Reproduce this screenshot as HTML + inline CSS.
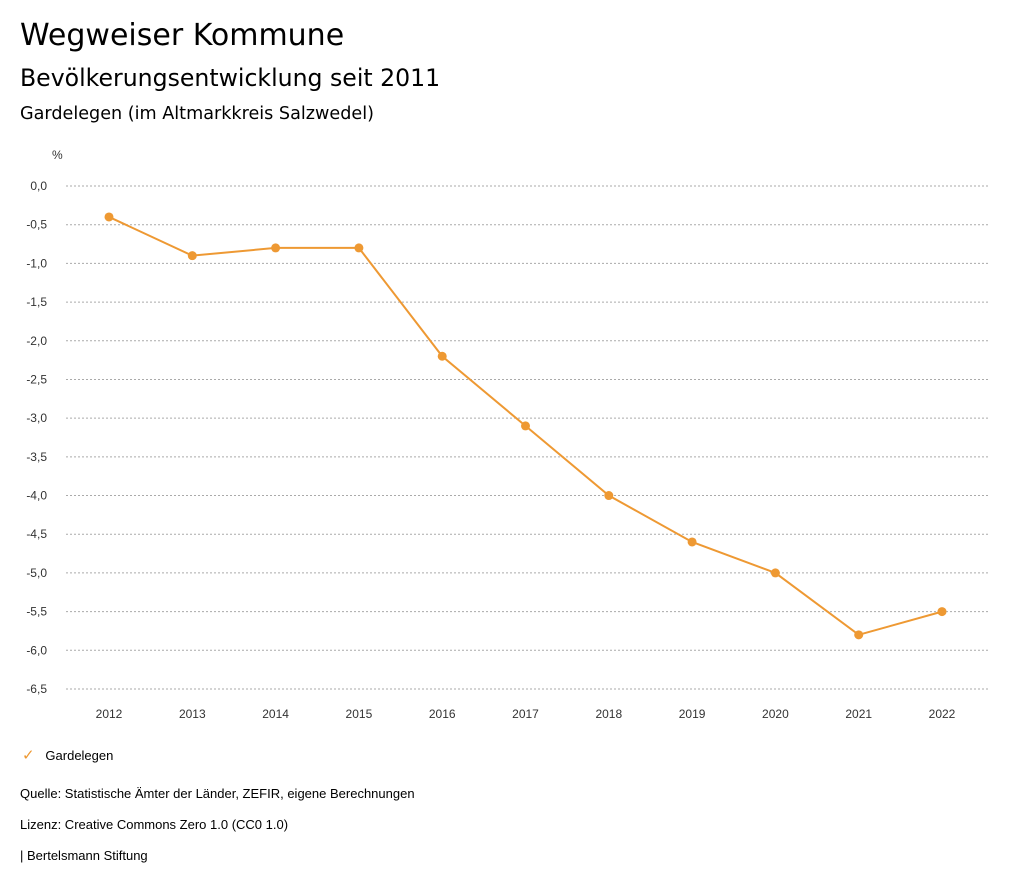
<!DOCTYPE html>
<html><head><meta charset="utf-8">
<style>
body{margin:0;width:1024px;height:888px;background:#fff;font-family:"Liberation Sans",sans-serif;color:#000;overflow:hidden}
.t{position:absolute;left:20px;white-space:nowrap}
.h{font-family:"DejaVu Sans",sans-serif}
</style></head><body>
<div class="t h" style="top:18px;font-size:30px">Wegweiser Kommune</div>
<div class="t h" style="top:64px;font-size:23.6px">Bevölkerungsentwicklung seit 2011</div>
<div class="t h" style="top:104px;font-size:17.6px">Gardelegen (im Altmarkkreis Salzwedel)</div>
<svg id="c" width="1024" height="888" style="position:absolute;left:0;top:0" font-family="Liberation Sans, sans-serif"></svg>
<div class="t" style="top:746px;left:22px;font-size:13px"><span style="color:#ee9933;font-size:15px">✓</span>&nbsp;&nbsp;&nbsp;Gardelegen</div>
<div class="t" style="top:786px;font-size:13px">Quelle: Statistische Ämter der Länder, ZEFIR, eigene Berechnungen</div>
<div class="t" style="top:817px;font-size:13px">Lizenz: Creative Commons Zero 1.0 (CC0 1.0)</div>
<div class="t" style="top:848px;font-size:13px">| Bertelsmann Stiftung</div>
<script>
const years=["2012","2013","2014","2015","2016","2017","2018","2019","2020","2021","2022"];
const values=[-0.4,-0.9,-0.8,-0.8,-2.2,-3.1,-4.0,-4.6,-5.0,-5.8,-5.5];
const yTicks=[0,-0.5,-1,-1.5,-2,-2.5,-3,-3.5,-4,-4.5,-5,-5.5,-6,-6.5];
const svg=document.getElementById('c');const NS='http://www.w3.org/2000/svg';
function y(v){return 186+(v/-6.5)*(689-186);}
function x(i){return 109+i*(942-109)/(years.length-1);}
function mk(t,a,txt){const e=document.createElementNS(NS,t);for(const k in a)e.setAttribute(k,a[k]);if(txt!==undefined)e.textContent=txt;svg.appendChild(e);return e;}
let u=mk('text',{x:52,y:159,'font-size':12,fill:'#333'},'%');


yTicks.forEach(v=>{
 const g=mk('line',{x1:66,x2:990,y1:y(v),y2:y(v),stroke:'#aaa','stroke-dasharray':'2,2','stroke-width':1});
 
 
 const t=mk('text',{x:47,y:y(v)+4,'font-size':12,fill:'#333','text-anchor':'end'},v.toFixed(1).replace('.',',').replace('-0,0','0,0'));
 
 
});
years.forEach((yr,i)=>{
 const t=mk('text',{x:x(i),y:718,'font-size':12,fill:'#333','text-anchor':'middle'},yr);
 
 
});
const l=mk('polyline',{points:values.map((v,i)=>x(i)+','+y(v)).join(' '),fill:'none',stroke:'#ee9933','stroke-width':2});


values.forEach((v,i)=>{
 const c=mk('circle',{cx:x(i),cy:y(v),r:4.5,fill:'#ee9933'});
 
 
});
</script>
</body></html>
